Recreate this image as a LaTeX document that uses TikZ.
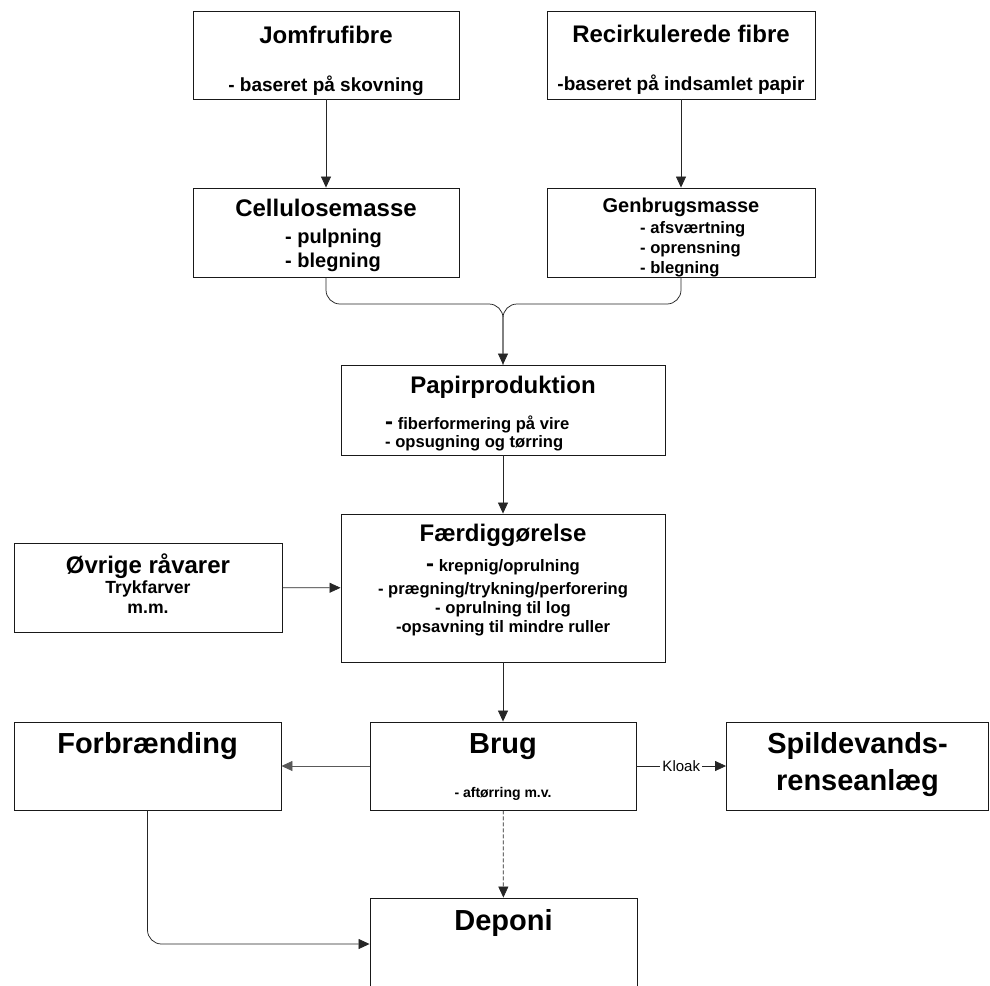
\documentclass[tikz,border=0pt]{standalone}
\usepackage{fontspec}
\setmainfont{Liberation Sans}
\usetikzlibrary{arrows.meta,positioning}

\newcommand{\stordash}{{\fontsize{24}{24}\selectfont-}}

\tikzset{
  box/.style={draw=black!90, line width=0.9pt, inner sep=0pt, minimum width=266pt, minimum height=88pt},
  ttl/.style={font=\bfseries\fontsize{#1}{#1}\selectfont, anchor=base, inner sep=0pt},
  ttl/.default=24,
  sub/.style={font=\bfseries\fontsize{#1}{#1}\selectfont, anchor=base, inner sep=0pt},
  sub/.default=16.6,
  flow/.style={draw=black!85, line width=0.75pt, -{Triangle[length=11pt,width=10pt]}},
  link/.style={draw=black!85, line width=0.75pt},
}

\begin{document}
\begin{tikzpicture}[x=1pt, y=-1pt]
\useasboundingbox (0,0) rectangle (990,985);

% boxes
\node[box] (jomfru) at (326,55) {};
\node[box, minimum width=268pt] (recirk) at (681,55) {};
\node[box, minimum height=89pt] (cellu) at (326,232.5) {};
\node[box, minimum width=268pt, minimum height=89pt] (genbrug) at (681,232.5) {};
\node[box, minimum width=324pt, minimum height=90pt] (papir) at (503,410) {};
\node[box, minimum width=324pt, minimum height=148pt] (faerdig) at (503,588) {};
\node[box, minimum width=268pt, minimum height=89pt] (ovrige) at (148,587.5) {};
\node[box, minimum width=267pt] (forbr) at (147.5,766) {};
\node[box] (brug) at (503,766) {};
\node[box, minimum width=262pt] (spild) at (857.5,766) {};
\node[box, minimum width=267pt, minimum height=92pt] (deponi) at (503.5,944) {};

% texts
\node[ttl] (jomfruT) at (326,43) {Jomfrufibre};
\node[sub=19] (jomfruS) at (326,91) {- baseret på skovning};
\node[ttl] (recirkT) at (681,42) {Recirkulerede fibre};
\node[sub=19] (recirkS) at (681,90) {-baseret på indsamlet papir};
\node[ttl] (celluT) at (326,216) {Cellulosemasse};
\node[sub=20, anchor=base west] (celluA) at (285,243) {- pulpning};
\node[sub=20, anchor=base west] (celluB) at (285,267) {- blegning};
\node[ttl=20] (genbrugT) at (681,212) {Genbrugsmasse};
\node[sub, anchor=base west] (genbrugA) at (640,233) {- afsværtning};
\node[sub, anchor=base west] (genbrugB) at (640,253) {- oprensning};
\node[sub, anchor=base west] (genbrugC) at (640,273) {- blegning};
\node[ttl] (papirT) at (503,393) {Papirproduktion};
\node[sub, anchor=base west] (papirA) at (385,429) {\stordash{} fiberformering på vire};
\node[sub, anchor=base west] (papirB) at (385,447) {- opsugning og tørring};
\node[ttl] (faerdigT) at (503,541) {Færdiggørelse};
\node[sub] (faerdigA) at (503,571) {\stordash{} krepnig/oprulning};
\node[sub] (faerdigB) at (503,594) {- prægning/trykning/perforering};
\node[sub] (faerdigC) at (503,613) {- oprulning til log};
\node[sub] (faerdigD) at (503,632) {-opsavning til mindre ruller};
\node[ttl] (ovrigeT) at (148,573) {Øvrige råvarer};
\node[sub=17.6] (ovrigeA) at (148,593) {Trykfarver};
\node[sub=17.6] (ovrigeB) at (148,613) {m.m.};
\node[ttl=29] (forbrT) at (147.5,753) {Forbrænding};
\node[ttl=29] (brugT) at (503,753) {Brug};
\node[sub=14] (brugS) at (503,797) {- aftørring m.v.};
\node[ttl=29] (spildT) at (857.5,753) {Spildevands-};
\node[ttl=29] (spildS) at (857.5,790) {renseanlæg};
\node[ttl=29] (deponiT) at (503.5,930) {Deponi};

% connectors
\coordinate (merge) at (503,304);
\draw[flow] (jomfru) -- (cellu);
\draw[flow] (recirk) -- (genbrug);
\draw[link, rounded corners=14pt] (genbrug.south) |- (merge) -- (papir.north);
\draw[flow, rounded corners=14pt] (cellu.south) |- (merge) -- (papir.north);
\draw[flow] (papir) -- (faerdig);
\draw[flow] (ovrige) -- (faerdig);
\draw[flow] (faerdig) -- (brug);
\draw[flow, draw=black!65] (brug) -- (forbr);
\draw[flow] (brug) -- node[fill=white, inner xsep=2pt, inner ysep=1pt, font=\fontsize{15}{15}\selectfont] (kloak) {Kloak} (spild);
\draw[flow, dash pattern=on 4pt off 2pt] (brug) -- (deponi);
\draw[flow, rounded corners=14pt] (forbr.south) |- (deponi.west);
\end{tikzpicture}
\end{document}
